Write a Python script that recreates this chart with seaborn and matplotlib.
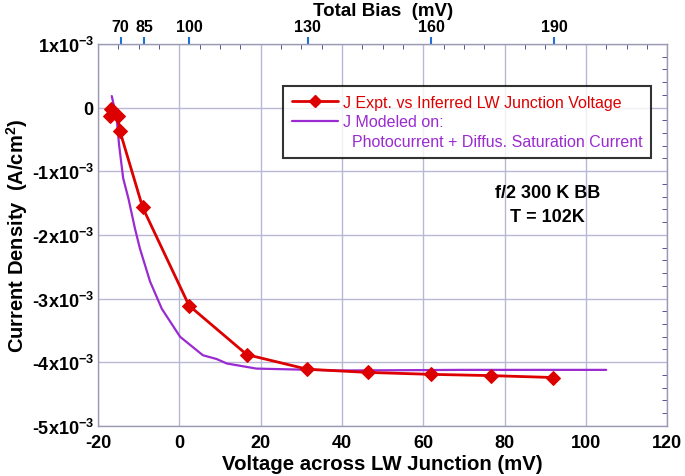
"""
J-V curve: measured current density vs inferred LW junction voltage, with model
"""
import pandas as pd
import numpy as np
import matplotlib
matplotlib.use("Agg")
import matplotlib.pyplot as plt
from matplotlib.lines import Line2D
from matplotlib.ticker import MultipleLocator, FixedLocator
import seaborn as sns

# Data, J in A/cm^2
v_expt = [-16.8, -17.0, -15.1, -14.6, -9.0, 2.4, 16.6, 31.5, 46.4, 61.8, 76.6, 91.9]
j_expt = [-0.03e-3, -0.13e-3, -0.14e-3, -0.37e-3, -1.57e-3, -3.11e-3, -3.88e-3,
          -4.11e-3, -4.16e-3, -4.19e-3, -4.21e-3, -4.24e-3]

v_model = [-16.6, -15.4, -14.8, -13.8, -12.5, -10.9, -9.7, -7.2, -4.3, 0.2, 5.8,
           9.2, 11.7, 19.0, 39.5, 70.0, 105.0]
j_model = [0.18e-3, -0.17e-3, -0.59e-3, -1.11e-3, -1.43e-3, -1.90e-3, -2.21e-3,
           -2.73e-3, -3.16e-3, -3.60e-3, -3.89e-3, -3.95e-3, -4.02e-3, -4.10e-3,
           -4.13e-3, -4.12e-3, -4.12e-3]

bias_labels = [70, 85, 100, 130, 160, 190]
bias_pos = [-14.4, -8.6, 2.5, 31.6, 62.0, 92.2]

y_ticks = [1e-3, 0, -1e-3, -2e-3, -3e-3, -4e-3, -5e-3]
y_tick_labels = ["1x10$^{-3}$", "0", "-1x10$^{-3}$", "-2x10$^{-3}$",
                 "-3x10$^{-3}$", "-4x10$^{-3}$", "-5x10$^{-3}$"]

RED = "#dd0000"
PURPLE = "#9a2bd0"
GRID = "#b8b8d6"
TICK = "#3a3a7a"


def main():
    sns.set_style("white")
    plt.rcParams["font.family"] = ["Liberation Sans", "DejaVu Sans"]
    plt.rcParams["mathtext.fontset"] = "custom"
    plt.rcParams["mathtext.rm"] = "Liberation Sans:bold"
    plt.rcParams["mathtext.default"] = "rm"
    plt.rcParams["axes.unicode_minus"] = False
    plt.rcParams["text.color"] = "black"
    plt.rcParams["axes.labelcolor"] = "black"
    plt.rcParams["xtick.labelcolor"] = "black"
    plt.rcParams["ytick.labelcolor"] = "black"

    df_e = pd.DataFrame({"v": v_expt, "j": j_expt})
    df_m = pd.DataFrame({"v": v_model, "j": j_model})

    fig = plt.figure(figsize=(6.85, 4.77), dpi=100)
    ax = fig.add_axes([0.143, 0.105, 0.831, 0.801])

    sns.lineplot(data=df_m, x="v", y="j", ax=ax, color=PURPLE, lw=1.6,
                 sort=False, estimator=None)
    sns.lineplot(data=df_e, x="v", y="j", ax=ax, color=RED, lw=2.0,
                 marker="D", markersize=7, markeredgecolor=RED,
                 sort=False, estimator=None)

    ax.set_xlim(-20, 120)
    ax.set_ylim(-5e-3, 1e-3)
    ax.xaxis.set_major_locator(MultipleLocator(20))
    ax.xaxis.set_minor_locator(MultipleLocator(5))
    ax.yaxis.set_major_locator(FixedLocator(y_ticks))
    ax.yaxis.set_minor_locator(MultipleLocator(2e-4))
    ax.set_yticklabels(y_tick_labels)
    ax.grid(True, which="major", color=GRID, lw=1.0)
    ax.set_axisbelow(True)
    for s in ax.spines.values():
        s.set_color("#9a9ab4")
        s.set_linewidth(1.0)
    ax.tick_params(which="both", direction="in", color=TICK, top=True, right=True,
                   labelsize=13, labelcolor="black")
    ax.tick_params(axis="x", pad=6)
    ax.tick_params(axis="y", pad=3)
    ax.tick_params(which="major", length=0)
    ax.tick_params(which="minor", length=3.5)
    for lab in ax.get_xticklabels() + ax.get_yticklabels():
        lab.set_fontweight("bold")

    ax.set_xlabel("Voltage across LW Junction (mV)", fontsize=14.7,
                  fontweight="bold", labelpad=2, color="black")
    ax.set_ylabel("Current Density  (A/cm$^2$)", fontsize=14.5,
                  fontweight="bold", labelpad=1, color="black")

    # Top axis: total bias at the measured points
    sec = ax.secondary_xaxis("top")
    sec.set_xticks(bias_pos)
    sec.set_xticklabels([str(b) for b in bias_labels])
    sec.tick_params(direction="out", length=5, width=1.5, color="#1f6fd6",
                    labelsize=11.5, pad=2, labelcolor="black")
    for lab in sec.get_xticklabels():
        lab.set_fontweight("bold")
    sec.spines["top"].set_visible(False)
    sec.set_xlabel("Total Bias  (mV)", fontsize=13.5, fontweight="bold", labelpad=3,
                   color="black")

    handles = [
        Line2D([], [], color=RED, lw=2.0, marker="D", markersize=6),
        Line2D([], [], color=PURPLE, lw=1.6),
        Line2D([], [], color="none", lw=0),
    ]
    labels = ["J Expt. vs Inferred LW Junction Voltage", "J Modeled on:",
              "  Photocurrent + Diffus. Saturation Current"]
    leg = ax.legend(handles, labels, loc="upper left", bbox_to_anchor=(0.325, 0.89),
                    fontsize=11.5, frameon=True, fancybox=False, handlelength=2.9,
                    handletextpad=0.3, labelspacing=0.3, borderpad=0.55,
                    borderaxespad=0)
    leg.get_frame().set_edgecolor("black")
    leg.get_frame().set_linewidth(1.5)
    for t, c in zip(leg.get_texts(), [RED, PURPLE, PURPLE]):
        t.set_color(c)

    ax.text(90.5, -1.40e-3, "f/2 300 K BB", fontsize=13, fontweight="bold",
            ha="center", color="black")
    ax.text(90.5, -1.78e-3, "T = 102K", fontsize=13, fontweight="bold",
            ha="center", color="black")

    fig.savefig("out.png", dpi=100)


if __name__ == "__main__":
    main()
